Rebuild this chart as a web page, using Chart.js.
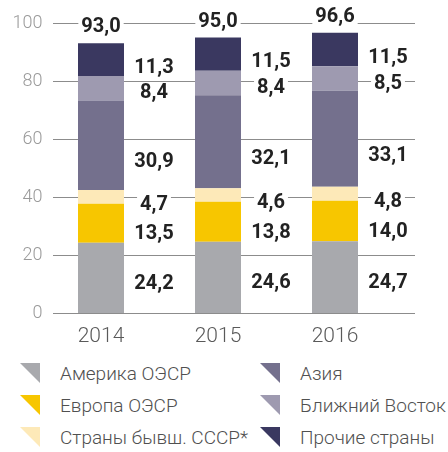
<!DOCTYPE html>
<html>
<head>
<meta charset="utf-8">
<script src="https://cdn.jsdelivr.net/npm/chart.js@4"></script>
<style>
  html, body { margin: 0; padding: 0; background: #fff; }
  #wrap { position: relative; width: 448px; height: 452px; }
  #box { position: absolute; left: 0; top: 0; width: 448px; height: 350px; }
  #legend {
    position: absolute; left: 20px; top: 357px;
    display: grid; grid-template-rows: repeat(3, 32px); grid-template-columns: 240px 180px;
    grid-auto-flow: column;
    font-family: Roboto, sans-serif; font-weight: 300; font-size: 19px; color: #505050;
  }
  .item { display: flex; align-items: center; white-space: nowrap; }
  .mark { width: 0; height: 0; border-left: 20px solid transparent; border-top: 20px solid; margin-right: 20px; }
</style>
</head>
<body>
<div id="wrap">
  <div id="box"><canvas id="c"></canvas></div>
  <div id="legend"></div>
</div>
<script>
const years = ['2014', '2015', '2016'];
const names = ['Америка ОЭСР', 'Европа ОЭСР', 'Страны бывш. СССР*', 'Азия', 'Ближний Восток', 'Прочие страны'];
const america = [24.2, 24.6, 24.7];
const europe = [13.5, 13.8, 14.0];
const ussr = [4.7, 4.6, 4.8];
const asia = [30.9, 32.1, 33.1];
const middleEast = [8.4, 8.4, 8.5];
const other = [11.3, 11.5, 11.5];
const totals = [93.0, 95.0, 96.6];

const colors = ['#a8a9ad', '#f7c600', '#fde9b8', '#74708d', '#9e9ab0', '#3a3860'];
// сдвиг подписей по вертикали, px
const labelShift = [6, 11, 8, 17, 5, 8];

const fmt = v => v.toFixed(1).replace('.', ',');

const gridPlugin = {
  id: 'grid',
  beforeDatasetsDraw(chart) {
    const ctx = chart.ctx, a = chart.chartArea, y = chart.scales.y;
    ctx.save();
    ctx.strokeStyle = '#8c8c8c';
    ctx.lineWidth = 1;
    y.ticks.forEach(t => {
      const py = Math.round(y.getPixelForValue(t.value)) + 0.5;
      ctx.beginPath();
      ctx.moveTo(a.left + 10.5, py);
      ctx.lineTo(a.right + 21.5, py);
      ctx.stroke();
    });
    ctx.restore();
  }
};

function boxText(ctx, text, x, y) {
  const w = ctx.measureText(text).width;
  ctx.fillStyle = '#fff';
  ctx.fillRect(x - w / 2 - 3, y - 11, w + 6, 22);
  ctx.fillStyle = '#222';
  ctx.fillText(text, x, y);
}

const labelsPlugin = {
  id: 'vals',
  afterDatasetsDraw(chart) {
    const ctx = chart.ctx;
    ctx.save();
    ctx.font = 'bold 20px Roboto';
    ctx.textAlign = 'center';
    ctx.textBaseline = 'middle';
    chart.data.datasets.forEach((ds, i) => {
      chart.getDatasetMeta(i).data.forEach((bar, j) => {
        const cy = (bar.y + bar.base) / 2 + labelShift[i];
        boxText(ctx, fmt(ds.data[j]), bar.x + 53, cy);
      });
    });
    const top = chart.getDatasetMeta(chart.data.datasets.length - 1).data;
    top.forEach((bar, j) => boxText(ctx, fmt(totals[j]), bar.x, chart.scales.y.getPixelForValue(totals[j]) - 16));
    ctx.restore();
  }
};

const series = [america, europe, ussr, asia, middleEast, other];

const chart = new Chart(document.getElementById('c'), {
  type: 'bar',
  data: {
    labels: years,
    datasets: series.map((d, i) => ({
      label: names[i],
      data: d,
      backgroundColor: colors[i],
      borderWidth: 0,
      barPercentage: 46 / 117,
      categoryPercentage: 1
    }))
  },
  options: {
    responsive: true,
    maintainAspectRatio: false,
    animation: false,
    layout: { padding: { top: 23, right: 54.5, left: 0, bottom: 0 } },
    plugins: { legend: { display: false }, tooltip: { enabled: false } },
    scales: {
      x: {
        stacked: true,
        grid: { display: false, drawTicks: false },
        border: { display: false },
        ticks: { color: '#5a5a5a', font: { family: 'Roboto', weight: 300, size: 21 }, padding: 11 },
        afterFit: s => { s.height = 37; }
      },
      y: {
        stacked: true,
        min: 0,
        max: 100,
        grid: { display: false, drawTicks: false },
        border: { display: false },
        ticks: { stepSize: 20, color: '#9a9a9a', font: { family: 'Roboto', weight: 300, size: 18 }, padding: 0 },
        afterFit: s => { s.width = 42.5; }
      }
    }
  },
  plugins: [gridPlugin, labelsPlugin]
});

const legend = document.getElementById('legend');
chart.data.datasets.forEach(ds => {
  const it = document.createElement('div');
  it.className = 'item';
  const m = document.createElement('span');
  m.className = 'mark';
  m.style.borderTopColor = ds.backgroundColor;
  const t = document.createElement('span');
  t.textContent = ds.label;
  it.appendChild(m);
  it.appendChild(t);
  legend.appendChild(it);
});
</script>
</body>
</html>
